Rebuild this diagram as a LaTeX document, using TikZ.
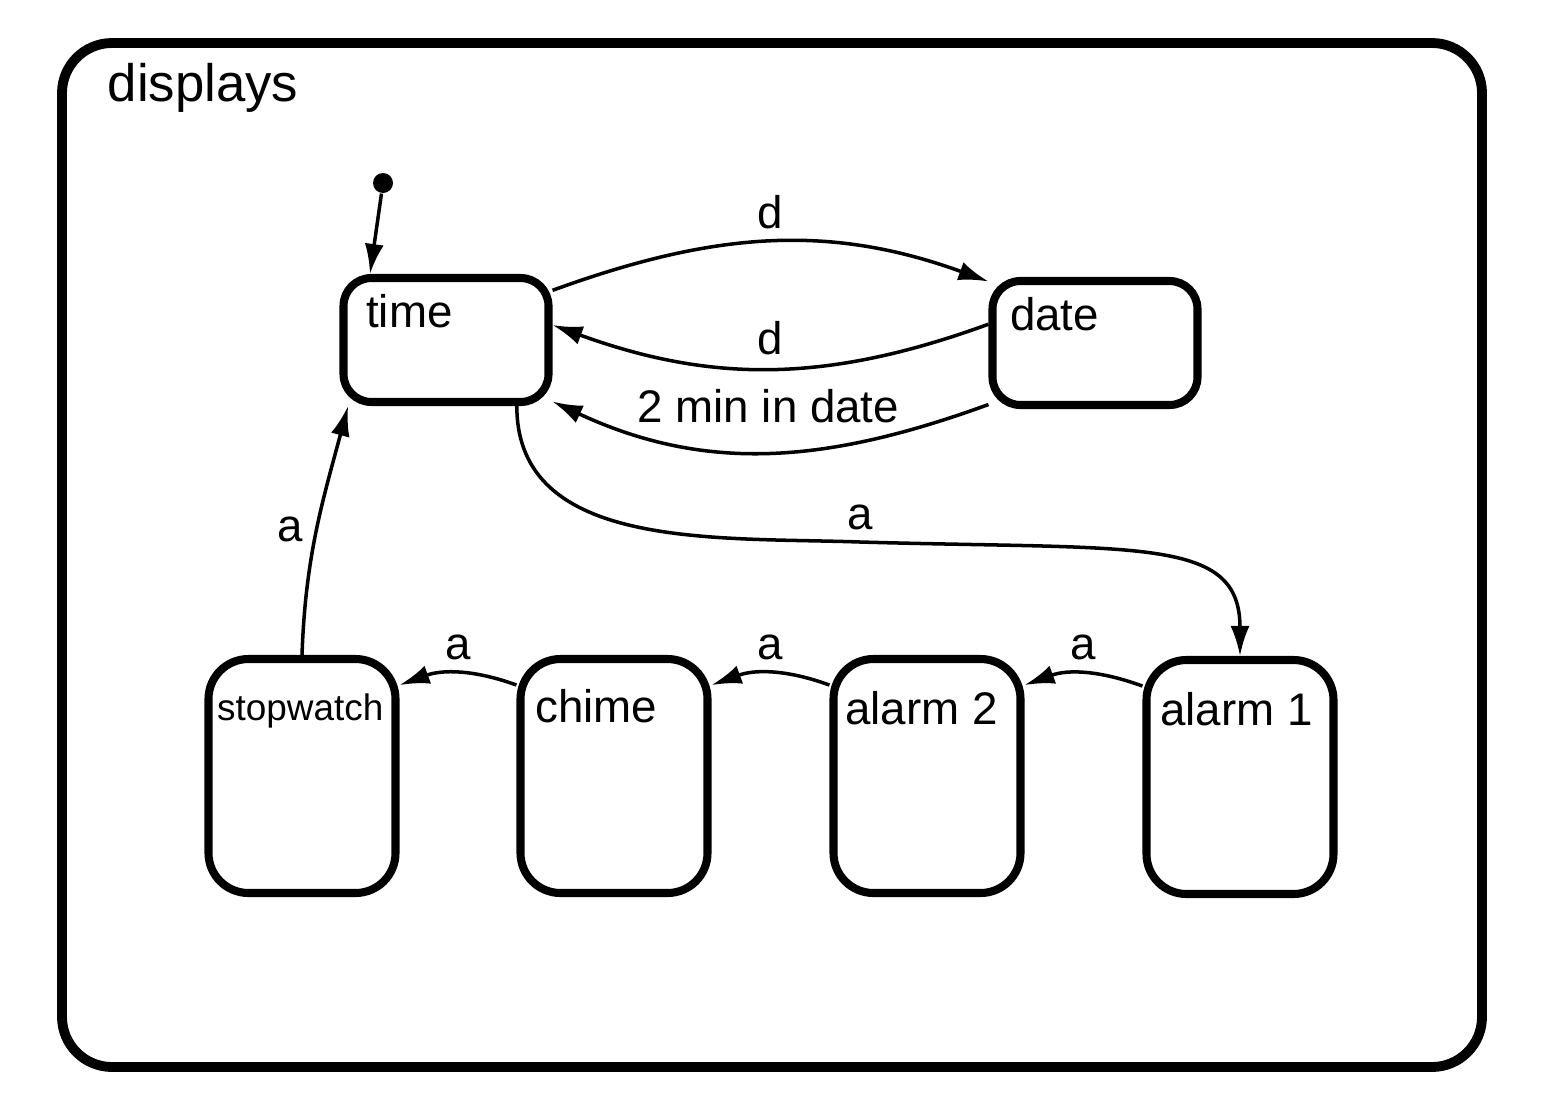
\documentclass[tikz,border=0pt]{standalone}
\usepackage{fontspec}
\setmainfont{Liberation Sans}
\usetikzlibrary{arrows.meta}

\tikzset{
  state/.style={draw, line width=2.3pt, rounded corners=2.8mm, minimum width=2.05cm, minimum height=1.24cm},
  tall/.style={state, rounded corners=4mm, minimum width=1.87cm, minimum height=2.34cm},
  txt/.style={anchor=base west, inner sep=0pt, font=\fontsize{13}{15}\selectfont},
  lab/.style={font=\fontsize{13}{15}\selectfont},
  trans/.style={line width=1pt, ->},
}

\begin{document}
\begin{tikzpicture}[>={Latex[length=3mm,width=1.9mm]}]
  \useasboundingbox (0,0) rectangle (15.47,11.07);
  % rammi
  \node [draw, line width=2.8pt, rounded corners=5mm, minimum width=14.2cm, minimum height=10.24cm] (displays) at (7.72,5.52) {};
  \node [txt, font=\fontsize{15}{18}\selectfont] (displaystxt) at ([xshift=5mm, yshift=-6.3mm]displays.north west) {displays};

  % stöður
  \node [state] (time) at (4.46,7.67) {};
  \node [state] (date) at (10.95,7.64) {};
  \node [tall] (stopwatch) at (3.02,3.31) {};
  \node [tall] (chime) at (6.14,3.31) {};
  \node [tall] (alarm2) at (9.27,3.31) {};
  \node [tall] (alarm1) at (12.40,3.30) {};

  \node [txt] (timetxt) at ([xshift=2.6mm, yshift=-5.4mm]time.north west) {time};
  \node [txt] (datetxt) at ([xshift=2.1mm, yshift=-5.4mm]date.north west) {date};
  \node [txt, font=\fontsize{10.5}{12}\selectfont] (stopwatchtxt) at ([xshift=1.2mm, yshift=-6.6mm]stopwatch.north west) {stopwatch};
  \node [txt] (chimetxt) at ([xshift=1.8mm, yshift=-6.8mm]chime.north west) {chime};
  \node [txt] (alarm2txt) at ([xshift=1.5mm, yshift=-7mm]alarm2.north west) {alarm 2};
  \node [txt] (alarm1txt) at ([xshift=1.7mm, yshift=-7mm]alarm1.north west) {alarm 1};

  % upphaf
  \node [circle, fill, inner sep=0pt, minimum size=2mm] (init) at (3.83,9.24) {};
  \draw [trans] (init) -- ([xshift=-7.6mm]time.north);

  % skipti
  \coordinate (bend) at (8.6,5.65);
  \draw [trans] (time.25) to [out=20, in=160] node [lab, above] (d1) {d} (date.150);
  \draw [trans] (date.170) to [out=200, in=-20] node [lab, above] (d2) {d} (time.8);
  \draw [trans] (date.210) to [out=200, in=-25] node [lab, above=1.6mm] (twomin) {2 min in date} (time.-30);
  \draw [trans] (time.-43) to [out=-90, in=178] (bend) .. controls +(2.8,-0.08) and +(0,1.2) .. (alarm1.north);
  \node [lab, above] (a1) at (bend) {a};
  \draw [trans] (alarm1.137) to [out=160, in=20] node [lab, above] (a2) {a} (alarm2.43);
  \draw [trans] (alarm2.137) to [out=160, in=20] node [lab, above] (a3) {a} (chime.43);
  \draw [trans] (chime.137) to [out=160, in=20] node [lab, above] (a4) {a} (stopwatch.43);
  \draw [trans] (stopwatch.north) to [out=88, in=-105] node [lab, left] (a5) {a} (time.214);
\end{tikzpicture}
\end{document}
